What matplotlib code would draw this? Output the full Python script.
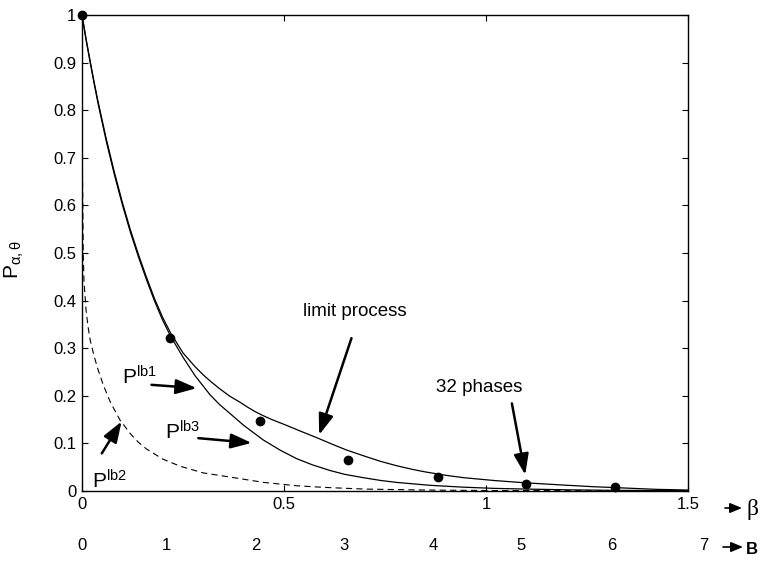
import matplotlib
matplotlib.use("Agg")
import matplotlib.pyplot as plt
from matplotlib.ticker import FuncFormatter
from matplotlib.transforms import blended_transform_factory

plt.rcParams['font.family'] = ['Liberation Sans', 'DejaVu Sans']
plt.rcParams['mathtext.fontset'] = 'custom'
plt.rcParams['mathtext.rm'] = 'Liberation Sans'
plt.rcParams['mathtext.it'] = 'Liberation Sans:italic'
plt.rcParams['lines.scale_dashes'] = False

# limit process (upper solid curve)
beta_lim = [0, 0.01, 0.02, 0.03, 0.04, 0.06, 0.08, 0.10, 0.12, 0.14, 0.16, 0.18, 0.20,
            0.22, 0.25, 0.28, 0.30, 0.32, 0.342, 0.366, 0.39, 0.41, 0.43, 0.449, 0.47,
            0.50, 0.54, 0.581, 0.62, 0.655, 0.70, 0.74, 0.779, 0.82, 0.85, 0.90, 0.944,
            1.02, 1.10, 1.18, 1.265, 1.35, 1.42, 1.5]
p_lim = [1.0, 0.950, 0.904, 0.859, 0.817, 0.740, 0.670, 0.606, 0.548, 0.496, 0.448,
         0.403, 0.364, 0.331, 0.290, 0.261, 0.244, 0.229, 0.214, 0.199, 0.187, 0.176,
         0.166, 0.158, 0.150, 0.140, 0.126, 0.112, 0.098, 0.086, 0.073, 0.062, 0.053,
         0.045, 0.040, 0.033, 0.028, 0.022, 0.017, 0.013, 0.009, 0.006, 0.0035, 0.002]

# lower bounds P^lb1 / P^lb3 (lower solid curve)
beta_lb1 = [0, 0.01, 0.02, 0.03, 0.04, 0.06, 0.08, 0.10, 0.12, 0.14, 0.16, 0.18, 0.20,
            0.22, 0.25, 0.28, 0.317, 0.34, 0.366, 0.40, 0.449, 0.49, 0.531, 0.57, 0.614,
            0.65, 0.696, 0.74, 0.779, 0.86, 0.944, 1.02, 1.1, 1.2, 1.3, 1.4, 1.5]
p_lb1 = [1.0, 0.948, 0.901, 0.856, 0.813, 0.735, 0.665, 0.601, 0.543, 0.491, 0.443,
         0.398, 0.358, 0.324, 0.281, 0.242, 0.202, 0.182, 0.163, 0.138, 0.107, 0.086,
         0.068, 0.055, 0.043, 0.035, 0.028, 0.022, 0.018, 0.012, 0.008, 0.0055, 0.004,
         0.0025, 0.0015, 0.001, 0.0005]

# lower bound P^lb2 (dashed)
beta_lb2 = [0, 0.0003, 0.001, 0.003, 0.005, 0.01, 0.015, 0.02, 0.03, 0.04, 0.053, 0.07,
            0.094, 0.12, 0.14, 0.16, 0.2, 0.243, 0.3, 0.383, 0.45, 0.531, 0.6, 0.7, 0.85,
            1.0, 1.5]
p_lb2 = [1.0, 0.85, 0.68, 0.50, 0.44, 0.38, 0.345, 0.318, 0.283, 0.254, 0.222, 0.187,
         0.149, 0.120, 0.102, 0.088, 0.067, 0.052, 0.038, 0.027, 0.018, 0.011, 0.0075,
         0.004, 0.002, 0.001, 0.0]

# 32 phases simulation points
beta_32 = [0, 0.218, 0.441, 0.659, 0.88, 1.10, 1.32]
p_32 = [1.0, 0.322, 0.146, 0.065, 0.030, 0.0147, 0.0077]

# second scale under the beta axis
B_labels = [0, 1, 2, 3, 4, 5, 6, 7]
B_at_beta = [0, 0.210, 0.430, 0.649, 0.870, 1.087, 1.312, 1.538]

fig = plt.figure(figsize=(7.6, 5.61), dpi=100)
ax = fig.add_axes([0.1079, 0.1248, 0.7974, 0.8485])

ax.plot(beta_lim, p_lim, color='k', lw=0.9)
ax.plot(beta_lb1, p_lb1, color='k', lw=0.9)
ax.plot(beta_lb2, p_lb2, color='k', lw=0.8, dashes=(4.5, 3))
ax.plot(beta_32, p_32, 'o', color='k', ms=6, clip_on=False, zorder=5)

ax.set_xlim(0, 1.5)
ax.set_ylim(0, 1)
ax.set_xticks([0, 0.5, 1, 1.5])
ax.set_yticks([i / 10 for i in range(11)])
fmt = FuncFormatter(lambda v, pos: '%g' % round(v, 2))
ax.xaxis.set_major_formatter(fmt)
ax.yaxis.set_major_formatter(fmt)
ax.tick_params(direction='in', top=True, right=True, length=4, width=0.8,
               labelsize=12, pad=4)
for sp in ax.spines.values():
    sp.set_linewidth(1.0)

ax.set_ylabel(r'$\mathregular{P_{\alpha,\theta}}$', fontsize=15)
ax.yaxis.set_label_coords(-0.092, 0.485)

# B values along the bottom
trans = blended_transform_factory(ax.transData, ax.transAxes)
for b, x in zip(B_labels, B_at_beta):
    ax.text(x, -0.1155, str(b), transform=trans, ha='center', va='center',
            fontsize=12, clip_on=False)

# axis name arrows at right
small = dict(arrowstyle='-|>,head_length=0.6,head_width=0.25', color='k', lw=1.2,
             mutation_scale=12, shrinkA=0, shrinkB=0)
fig.add_artist(plt.Annotation('', xy=(742, 561 - 508), xytext=(725, 561 - 508),
                              xycoords='figure pixels', arrowprops=small))
fig.text(747, 561 - 510, 'β', family='Liberation Serif', fontsize=17,
         ha='left', va='center', transform=None)
fig.add_artist(plt.Annotation('', xy=(743, 561 - 547), xytext=(723, 561 - 547),
                              xycoords='figure pixels', arrowprops=small))
fig.text(746, 561 - 549, 'B', fontsize=12, fontweight='bold',
         ha='left', va='center', transform=None)

# curve annotations
big = dict(arrowstyle='-|>,head_length=0.9,head_width=0.32', color='k', lw=1.8,
           mutation_scale=14, shrinkA=0, shrinkB=0)
ax.text(0.676, 0.368, 'limit process', fontsize=13.5, ha='center', va='baseline')
ax.annotate('', xy=(0.587, 0.118), xytext=(0.667, 0.321), arrowprops=big)
ax.text(0.984, 0.207, '32 phases', fontsize=13.5, ha='center', va='baseline')
ax.annotate('', xy=(1.097, 0.034), xytext=(1.064, 0.184), arrowprops=big)

ax.text(0.098, 0.224, r'$\mathregular{P^{lb1}}$', fontsize=15, ha='left', va='baseline')
ax.annotate('', xy=(0.284, 0.216), xytext=(0.172, 0.223), arrowprops=big)
ax.text(0.205, 0.109, r'$\mathregular{P^{lb3}}$', fontsize=15, ha='left', va='baseline')
ax.annotate('', xy=(0.42, 0.101), xytext=(0.288, 0.111), arrowprops=big)
ax.text(0.024, 0.006, r'$\mathregular{P^{lb2}}$', fontsize=15, ha='left', va='baseline')
ax.annotate('', xy=(0.098, 0.146), xytext=(0.049, 0.079), arrowprops=big)

fig.savefig('out.png', dpi=100)
